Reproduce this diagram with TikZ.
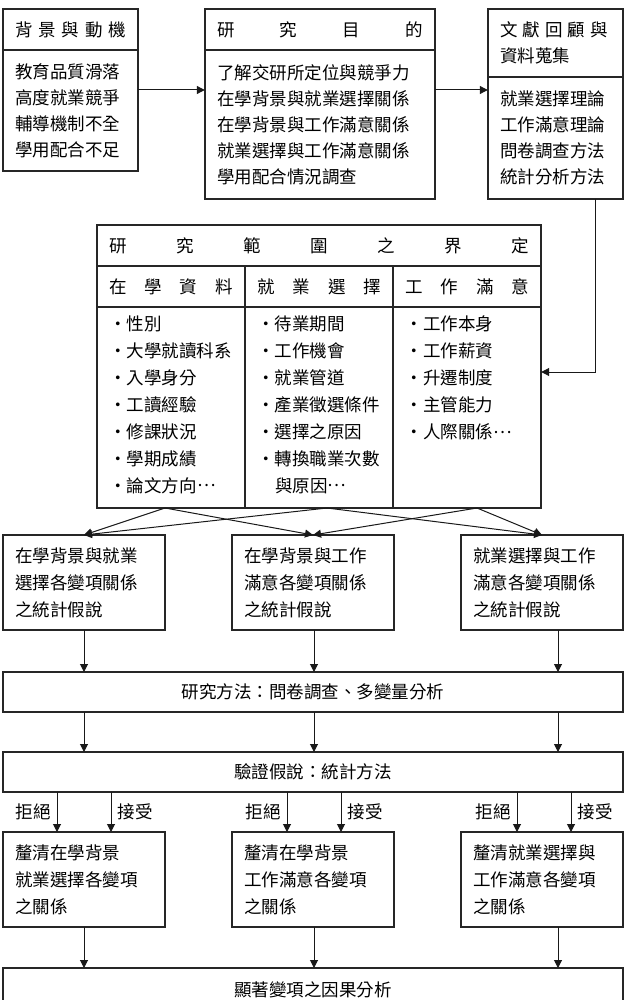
\documentclass[tikz,border=0pt]{standalone}
\usepackage{fontspec}
\newfontfamily\cjkfont{Noto Sans CJK TC}
\usetikzlibrary{arrows.meta, positioning, fit, calc}

\newcommand{\spread}[2]{\makebox[#1]{#2}}
\newcommand{\bul}{\makebox[18pt][c]{•}}
\newcommand{\mdots}{\raisebox{.3em}{…}}
\newcommand{\cellitems}[1]{\parbox[c][184pt][t]{124pt}{#1}}

\tikzset{
  box/.style={draw=black!85, line width=1.2pt, inner xsep=12pt, inner ysep=0pt,
    outer sep=0pt, align=left},
  cell/.style={box, inner xsep=12pt, minimum width=148pt, minimum height=201pt,
    font=\cjkfont\fontsize{17.5}{27}\selectfont},
  hyp/.style={box, anchor=north west, text width=138pt, minimum height=95pt,
    font=\cjkfont\fontsize{17.5}{27}\selectfont},
  wide/.style={box, anchor=north west, minimum width=620pt, align=center},
  flow/.style={->, line width=1pt, draw=black!90},
  lbl/.style={inner sep=6pt}
}

\begin{document}
\begin{tikzpicture}[x=1pt, y=-1pt,
    font=\cjkfont\fontsize{17.5}{26}\selectfont,
    >={Triangle[length=8pt,width=8pt]}]
\useasboundingbox (0,0) rectangle (627,1000);

% Top row
\node (bghead) [box, anchor=north west, text width=111pt, minimum height=41pt] at (3,9)
  {\spread{111pt}{背\hfill 景\hfill 與\hfill 動\hfill 機}};
\node (bgbody) [box, below=0pt of bghead, text width=111pt, minimum height=121pt]
  {教育品質滑落\\高度就業競爭\\輔導機制不全\\學用配合不足};
\node (bg) [fit=(bghead)(bgbody), inner sep=0pt] {};

\node (aimhead) [box, anchor=north west, text width=206pt, minimum height=41pt] at (205,9)
  {\spread{206pt}{研\hfill 究\hfill 目\hfill 的}};
\node (aimbody) [box, below=0pt of aimhead, text width=206pt, minimum height=149pt]
  {了解交研所定位與競爭力\\在學背景與就業選擇關係\\在學背景與工作滿意關係\\就業選擇與工作滿意關係\\學用配合情況調查};
\node (aim) [fit=(aimhead)(aimbody), inner sep=0pt] {};

\node (lithead) [box, anchor=north west, text width=111pt, minimum height=68pt] at (488,9)
  {\spread{108pt}{文\hfill 獻\hfill 回\hfill 顧\hfill 與}\\資料蒐集};
\node (litbody) [box, below=0pt of lithead, text width=111pt, minimum height=122pt]
  {就業選擇理論\\工作滿意理論\\問卷調查方法\\統計分析方法};
\node (lit) [fit=(lithead)(litbody), inner sep=0pt] {};

% Scope of study
\node (scope) [box, anchor=north west, text width=420pt, minimum height=41pt] at (97,225)
  {\spread{420pt}{研\hfill 究\hfill 範\hfill 圍\hfill 之\hfill 界\hfill 定}};
\node (h1) [box, anchor=north west, text width=124pt, minimum height=41pt] at (97,266)
  {\spread{124pt}{在\hfill 學\hfill 資\hfill 料}};
\node (h2) [box, right=0pt of h1, text width=124pt, minimum height=41pt]
  {\spread{124pt}{就\hfill 業\hfill 選\hfill 擇}};
\node (h3) [box, right=0pt of h2, text width=124pt, minimum height=41pt]
  {\spread{124pt}{工\hfill 作\hfill 滿\hfill 意}};
\node (c1) [cell, below=0pt of h1] {\cellitems{\bul 性別\\\bul 大學就讀科系\\\bul 入學身分\\\bul 工讀經驗\\\bul 修課狀況\\\bul 學期成績\\\bul 論文方向\mdots}};
\node (c2) [cell, below=0pt of h2] {\cellitems{\bul 待業期間\\\bul 工作機會\\\bul 就業管道\\\bul 產業徵選條件\\\bul 選擇之原因\\\bul 轉換職業次數\\\hspace*{18pt}與原因\mdots}};
\node (c3) [cell, below=0pt of h3] {\cellitems{\bul 工作本身\\\bul 工作薪資\\\bul 升遷制度\\\bul 主管能力\\\bul 人際關係\mdots}};
\node (scopebox) [fit=(scope)(c1)(c3), inner sep=0pt] {};

% Hypotheses
\node (hypA) [hyp] at (3,535) {在學背景與就業\\選擇各變項關係\\之統計假說};
\node (hypB) [hyp] at (232,535) {在學背景與工作\\滿意各變項關係\\之統計假說};
\node (hypC) [hyp] at (461,535) {就業選擇與工作\\滿意各變項關係\\之統計假說};

\node (method) [wide, minimum height=40pt] at (3,672) {研究方法：問卷調查、多變量分析};
\node (verify) [wide, minimum height=40pt] at (3,752) {驗證假說：統計方法};

% Results
\node (resA) [hyp] at (3,832) {釐清在學背景\\就業選擇各變項\\之關係};
\node (resB) [hyp] at (232,832) {釐清在學背景\\工作滿意各變項\\之關係};
\node (resC) [hyp] at (461,832) {釐清就業選擇與\\工作滿意各變項\\之關係};

\node (final) [wide, minimum height=44pt] at (3,968) {顯著變項之因果分析};

% Connectors
\draw[flow] (bg.east) -- (bg.east -| aim.west);
\draw[flow] (aim.east |- bg.east) -- (bg.east -| lit.west);
\coordinate (turn) at (595,372);
\draw[flow] (lit.south -| turn) -- (turn) -- (turn -| scopebox.east);

\draw[flow] ($(c1.south)+(-6,0)$) -- (hypA.north);
\draw[flow] ($(c1.south)+(-6,0)$) -- (hypB.north);
\draw[flow] ($(c2.south)+(8,0)$) -- (hypA.north);
\draw[flow] ($(c2.south)+(8,0)$) -- (hypC.north);
\draw[flow] ($(c3.south)+(10,0)$) -- (hypB.north);
\draw[flow] ($(c3.south)+(10,0)$) -- (hypC.north);

\coordinate (colA) at (84,0);
\coordinate (colB) at (314,0);
\coordinate (colC) at (558,0);
\foreach \c in {colA,colB,colC} {
  \draw[flow] (\c |- hypA.south) -- (\c |- method.north);
  \draw[flow] (\c |- method.south) -- (\c |- verify.north);
  \draw[flow] (\c |- resA.south) -- (\c |- final.north);
}

\coordinate (rejA) at (57,0);
\coordinate (accA) at (111,0);
\coordinate (rejB) at (287,0);
\coordinate (accB) at (341,0);
\coordinate (rejC) at (517,0);
\coordinate (accC) at (571,0);
\foreach \r/\a in {rejA/accA, rejB/accB, rejC/accC} {
  \draw[flow] (\r |- verify.south) -- node[left, lbl] {拒絕} (\r |- resA.north);
  \draw[flow] (\a |- verify.south) -- node[right, lbl] {接受} (\a |- resA.north);
}
\end{tikzpicture}
\end{document}
